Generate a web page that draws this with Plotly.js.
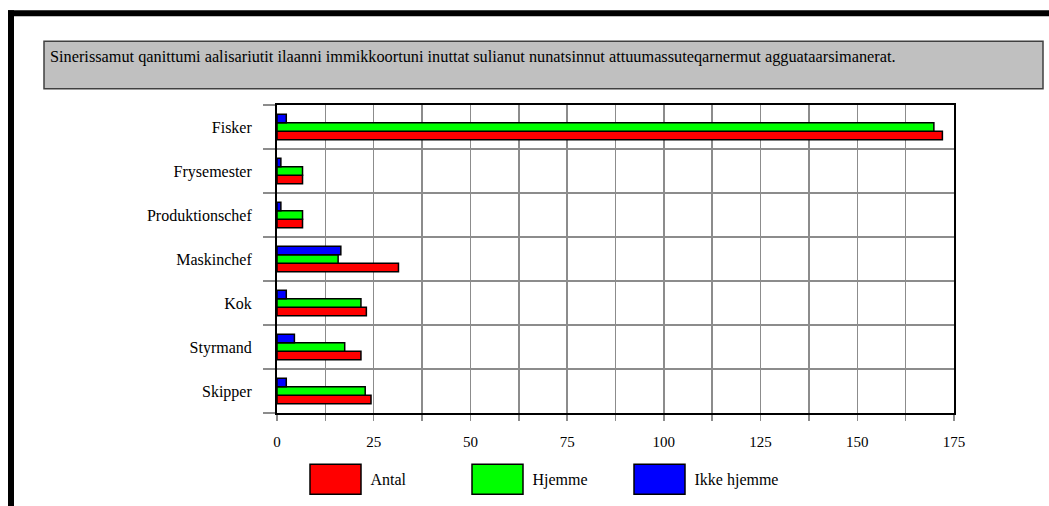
<!DOCTYPE html>
<html>
<head>
<meta charset="utf-8">
<script src="https://cdn.plot.ly/plotly-3.0.1.min.js"></script>
<style>
  html, body { margin: 0; padding: 0; background: #ffffff; }
  #chart { width: 1049px; height: 506px; }
</style>
</head>
<body>
<div id="chart"></div>
<script>
// Categories listed bottom to top (as drawn on the y axis)
var categories = ["Skipper", "Styrmand", "Kok", "Maskinchef", "Produktionschef", "Frysemester", "Fisker"];
var seriesNames = ["Antal", "Hjemme", "Ikke hjemme"];
var antal = [24.3, 21.7, 23.1, 31.4, 6.6, 6.6, 172];
var hjemme = [22.8, 17.5, 21.7, 15.8, 6.6, 6.6, 169.8];
var ikkeHjemme = [2.4, 4.5, 2.4, 16.5, 1, 1, 2.4];
var seriesColors = ["#ff0000", "#00ff00", "#0000ff"];
var chartTitle = "Sinerissamut qanittumi aalisariutit ilaanni immikkoortuni inuttat sulianut nunatsinnut attuumassuteqarnermut agguataarsimanerat.";

var W = 1049, H = 506;
var L = 277, R = 954, T = 104.7, B = 412.7;
function px2x(p) { return (p - L) / (R - L); }
function py2y(p) { return (B - p) / (B - T); }

var serif = "'Liberation Serif', 'Times New Roman', Times, serif";
var values = [antal, hjemme, ikkeHjemme];
var traces = values.map(function (v, i) {
  return {
    type: "bar",
    orientation: "h",
    name: seriesNames[i],
    y: categories,
    x: v,
    marker: { color: seriesColors[i], line: { color: "#000000", width: 1.5 } },
    hoverinfo: "x+y+name"
  };
});

var layout = {
  width: W, height: H,
  paper_bgcolor: "#ffffff",
  plot_bgcolor: "#ffffff",
  margin: { l: L, r: W - R, t: T, b: H - B, pad: 0, autoexpand: false },
  barmode: "group",
  bargap: 0.42,
  bargroupgap: 0,
  font: { family: serif, size: 16, color: "#000000" },
  title: {
    text: chartTitle,
    font: { family: serif, size: 16.3, color: "#000000" },
    x: 50 / W, xanchor: "left", xref: "container",
    y: 1 - 56 / H, yanchor: "middle", yref: "container",
    automargin: false
  },
  xaxis: {
    range: [0, 175],
    dtick: 25, tick0: 0,
    ticks: "outside", ticklen: 6, tickwidth: 1.5, tickcolor: "#8c8c8c",
    showgrid: true, gridcolor: "#8c8c8c", gridwidth: 1.5,
    minor: { dtick: 12.5, tick0: 0, ticks: "outside", ticklen: 6, tickwidth: 1.5, tickcolor: "#8c8c8c", showgrid: true, gridcolor: "#8c8c8c", gridwidth: 1.5 },
    showline: true, linecolor: "#000000", linewidth: 2, mirror: true,
    zeroline: false,
    tickfont: { family: serif, size: 15, color: "#000000" },
    ticklabelstandoff: 8,
    automargin: false,
    fixedrange: true
  },
  yaxis: {
    type: "category",
    categoryorder: "array", categoryarray: categories,
    tickson: "boundaries",
    ticks: "outside", ticklen: 12, tickwidth: 1.5, tickcolor: "#8c8c8c",
    showgrid: true, gridcolor: "#8c8c8c", gridwidth: 1.5,
    showline: true, linecolor: "#000000", linewidth: 2, mirror: true,
    zeroline: false,
    tickfont: { family: serif, size: 16, color: "#000000" },
    ticklabelstandoff: 20,
    automargin: false,
    fixedrange: true
  },
  showlegend: true,
  legend: {
    orientation: "h",
    traceorder: "normal",
    x: px2x(300.5), xanchor: "left",
    y: py2y(479), yanchor: "middle",
    itemwidth: 60,
    entrywidth: 87, entrywidthmode: "pixels",
    font: { family: serif, size: 16, color: "#000000" },
    bgcolor: "rgba(0,0,0,0)",
    borderwidth: 0
  },
  shapes: [
    // grey title box
    { type: "rect", xref: "paper", yref: "paper", layer: "below",
      x0: px2x(44), x1: px2x(1043), y0: py2y(88.5), y1: py2y(41),
      fillcolor: "#c0c0c0", line: { color: "#404040", width: 1.5 } },
    // black frame: top bar
    { type: "rect", xref: "paper", yref: "paper", layer: "below",
      x0: px2x(8), x1: px2x(1049), y0: py2y(16), y1: py2y(10),
      fillcolor: "#000000", line: { width: 0 } },
    // black frame: left bar
    { type: "rect", xref: "paper", yref: "paper", layer: "below",
      x0: px2x(8), x1: px2x(14), y0: py2y(506), y1: py2y(10),
      fillcolor: "#000000", line: { width: 0 } }
  ]
};

Plotly.newPlot("chart", traces, layout, { displayModeBar: false, staticPlot: true }).then(function (gd) {
  // enlarge the legend swatches to the big boxes of the reference
  var paths = gd.querySelectorAll(".legend .legendpoints path");
  paths.forEach(function (p) {
    p.setAttribute("d", "M25.5,15H-25.5V-15H25.5Z");
    p.style.strokeWidth = "1.5px";
    p.style.stroke = "#000000";
  });
});
</script>
</body>
</html>
